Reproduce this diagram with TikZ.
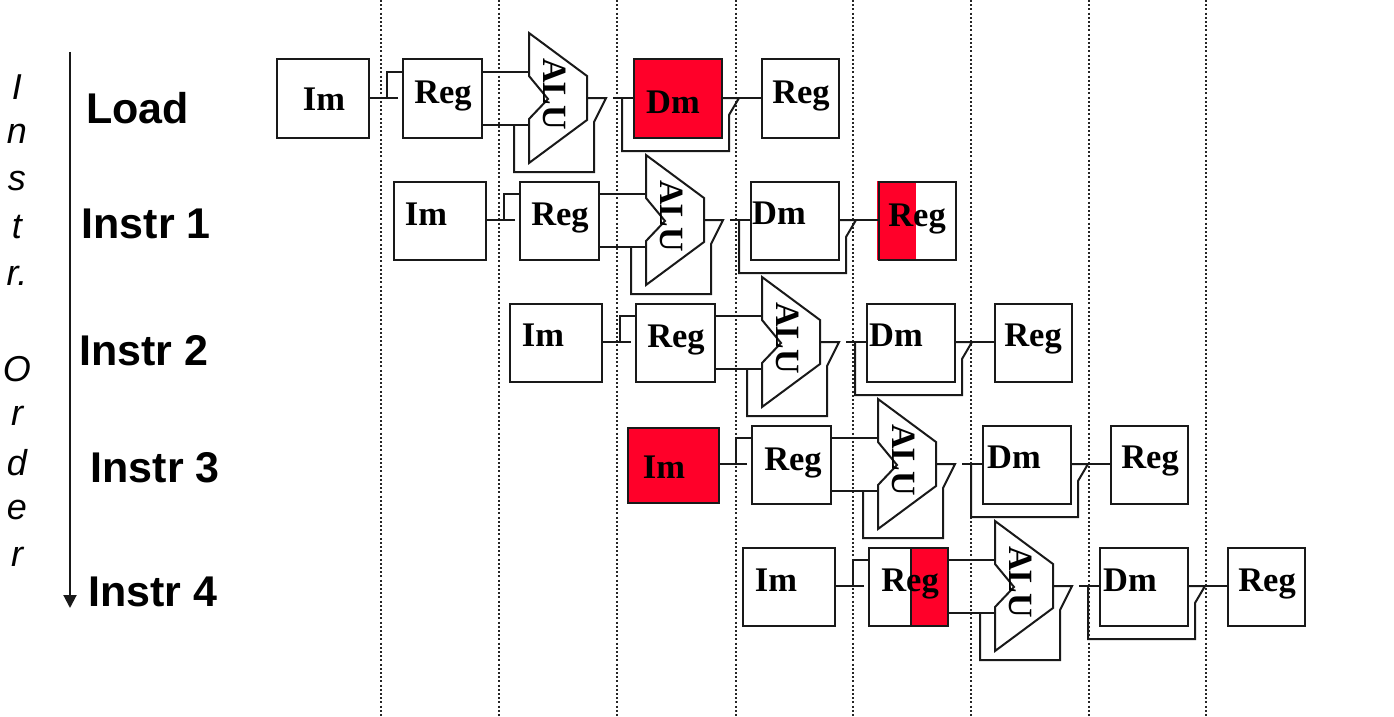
\documentclass[tikz,border=0pt]{standalone}
\usepackage{fontspec}
\setmainfont{Liberation Serif}
\newfontfamily\headfont{Liberation Sans}
\usetikzlibrary{arrows.meta}
\definecolor{hazard}{RGB}{255,0,41}
\tikzset{
  wire/.style={line width=2pt,black!90},
  stage/.style={draw=black!90,line width=2pt,inner sep=0pt,outer sep=0pt,anchor=north west},
  fetchbox/.style={stage,minimum width=92.5pt,minimum height=78pt},
  regbox/.style={stage,minimum width=79.5pt,minimum height=78pt},
  regendbox/.style={stage,minimum width=77pt,minimum height=78pt},
  membox/.style={stage,minimum width=88.5pt,minimum height=78pt},
  hazardfill/.style={fill=hazard,draw=none},
  unit/.style={font=\fontsize{34.5}{34.5}\selectfont\bfseries,inner sep=0pt},
  alutext/.style={font=\fontsize{34}{34}\selectfont\bfseries,inner sep=0pt,rotate=-90},
  rowlabel/.style={font=\headfont\fontsize{43}{43}\selectfont\bfseries,inner sep=0pt,anchor=base west},
  axisletter/.style={font=\headfont\fontsize{36}{36}\selectfont\itshape,inner sep=0pt},
  cycle/.style={dash pattern=on 2pt off 2.2pt,line width=1.7pt,black!85}
}
\begin{document}
\begin{tikzpicture}[x=1pt,y=-1pt]
\useasboundingbox (0,0) rectangle (1394,717);

% clock cycle boundaries
\foreach \c/\x in {a/381,b/499,c/617,d/736,e/853,f/971,g/1089,h/1206}{
  \coordinate (top\c) at (\x,0);
  \coordinate (bot\c) at (\x,717);
  \draw[cycle] (top\c) -- (bot\c);
}

% instruction order axis
\coordinate (axistop) at (70,52);
\coordinate (axisend) at (70,608);
\draw[wire,-{Stealth[length=13pt,width=13pt,inset=0pt]}] (axistop) -- (axisend);
\foreach \n/\y/\t in {a/87/I,b/134/n,c/181/s,d/227/t,e/276/r.,f/369/O,g/416/r,h/463/d,i/510/e,j/557/r}{
  \node[axisletter] (axis\n) at (17,\y) {\t};
}

% row labels
\node[rowlabel] (lab0) at (86,123) {Load};
\node[rowlabel] (lab1) at (81.5,238) {Instr 1};
\node[rowlabel] (lab2) at (79,365) {Instr 2};
\node[rowlabel] (lab3) at (90.5,482) {Instr 3};
\node[rowlabel] (lab4) at (88,606) {Instr 4};

% partly shaded register stages
\fill[hazardfill] (877,181) rectangle (916,260);
\fill[hazardfill] (911,547) rectangle (949,626);
\draw[wire] (911,547) -- (911,626);

% instruction memories
\node[fetchbox] (im0) at (276.5,59.5) {};
\node[fetchbox] (im1) at (393.5,181.5) {};
\node[fetchbox] (im2) at (509.5,303.5) {};
\node[fetchbox,fill=hazard,minimum width=91pt,minimum height=75pt] (im3) at (627.5,428) {};
\node[fetchbox] (im4) at (742.5,547.5) {};

% the remaining stages and their wiring, one row per instruction
\foreach \r/\dx/\dy/\memfill in {0/0/0/hazard,1/117/122/none,2/233/244/none,3/349/366/none,4/466/488/none}{
  \begin{scope}[shift={(\dx,\dy)}]
    \node[regbox] (rega\r) at (402.5,59.5) {};
    \node[membox,fill=\memfill] (dm\r) at (633.5,59.5) {};
    \node[regendbox] (regb\r) at (762,59.5) {};
    % ALU outline with its input notch
    \coordinate (alutl\r) at (529,33);
    \coordinate (alutr\r) at (587,76);
    \coordinate (alubr\r) at (587,120);
    \coordinate (alubl\r) at (529,163);
    \coordinate (alulo\r) at (529,119);
    \coordinate (alumid\r) at (548,99);
    \coordinate (aluup\r) at (529,76);
    \draw[wire,line join=miter] (alutl\r) -- (alutr\r) -- (alubr\r) -- (alubl\r) -- (alulo\r) -- (alumid\r) -- (aluup\r) -- cycle;
    % junctions along the wires
    \coordinate (fetchout\r) at (398,98);
    \coordinate (fetchbr\r) at (387,98);
    \coordinate (fetchup\r) at (387,72);
    \coordinate (regin\r) at (402,72);
    \coordinate (rdhi\r) at (482,72);
    \coordinate (rdhiend\r) at (529,72);
    \coordinate (rdlo\r) at (482,125);
    \coordinate (rdloend\r) at (529,125);
    \coordinate (fbl\r) at (514,125);
    \coordinate (fbbl\r) at (514,172);
    \coordinate (fbbr\r) at (594,172);
    \coordinate (fbr\r) at (594,122);
    \coordinate (aluout\r) at (587,98);
    \coordinate (alutip\r) at (606,98);
    \coordinate (memin\r) at (613,98);
    \coordinate (memfb\r) at (622,98);
    \coordinate (memfbb\r) at (622,151);
    \coordinate (memfbr\r) at (729,151);
    \coordinate (memfbu\r) at (729,115);
    \coordinate (memtip\r) at (739,98);
    \draw[wire] (fetchout\r) -- (im\r.east |- fetchout\r);
    \draw[wire] (fetchbr\r) -- (fetchup\r) -- (regin\r);
    \draw[wire] (rdhi\r) -- (rdhiend\r);
    \draw[wire] (rdlo\r) -- (rdloend\r);
    \draw[wire] (fbl\r) -- (fbbl\r) -- (fbbr\r) -- (fbr\r) -- (alutip\r) -- (aluout\r);
    \draw[wire] (memin\r) -- (dm\r.west |- memin\r);
    \draw[wire] (memfb\r) -- (memfbb\r) -- (memfbr\r) -- (memfbu\r) -- (memtip\r) -- (dm\r.east |- memtip\r);
    \draw[wire] (memtip\r) -- (regb\r.west |- memtip\r);
    \node[alutext] (alu\r) at (555,94) {ALU};
  \end{scope}
}

% stage names
\foreach \r/\x/\y in {0/324/99,1/426/214,2/543/335,3/664/467,4/776/580}{\node[unit] (imt\r) at (\x,\y) {Im};}
\foreach \r/\x/\y in {0/443/96,1/560/218,2/676/340,3/793/463,4/910/584}{\node[unit] (regt\r) at (\x,\y) {Reg};}
\foreach \r/\x/\y in {0/673/102,1/779/213,2/896/335,3/1014/457,4/1130/580}{\node[unit] (dmt\r) at (\x,\y) {Dm};}
\foreach \r/\x/\y in {0/801/96,1/917/219,2/1033/339,3/1150/461,4/1267/584}{\node[unit] (regu\r) at (\x,\y) {Reg};}
\end{tikzpicture}
\end{document}
